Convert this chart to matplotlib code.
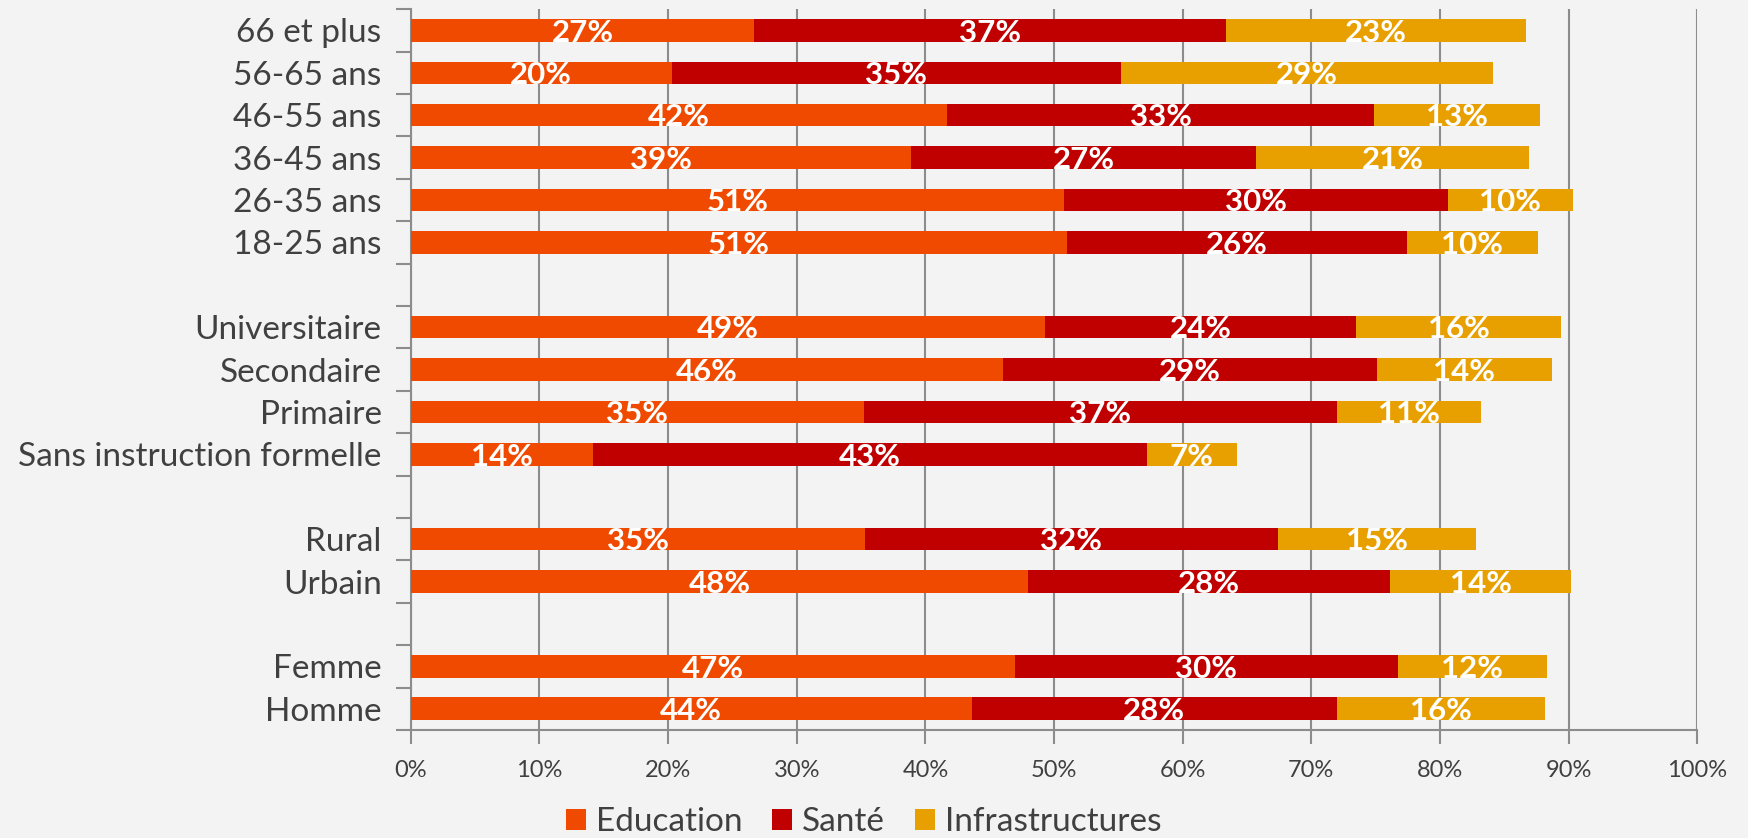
import numpy as np
import matplotlib.pyplot as plt

# categories top to bottom, blank rows separate the groups (as in the source sheet)
categories = ['66 et plus', '56-65 ans', '46-55 ans', '36-45 ans', '26-35 ans', '18-25 ans', '',
              'Universitaire', 'Secondaire', 'Primaire', 'Sans instruction formelle', '',
              'Rural', 'Urbain', '',
              'Femme', 'Homme']
education = [26.7, 20.3, 41.7, 38.9, 50.8, 51.0, np.nan,
             49.3, 46.0, 35.2, 14.2, np.nan,
             35.3, 48.0, np.nan,
             47.0, 43.6]
sante = [36.7, 34.9, 33.2, 26.8, 29.8, 26.4, np.nan,
         24.2, 29.1, 36.8, 43.0, np.nan,
         32.1, 28.1, np.nan,
         29.7, 28.4]
infra = [23.3, 28.9, 12.9, 21.2, 9.7, 10.2, np.nan,
         15.9, 13.6, 11.2, 7.0, np.nan,
         15.4, 14.1, np.nan,
         11.6, 16.2]
series = ['Education', 'Santé', 'Infrastructures']
colors = ['#EF4A00', '#C00000', '#E8A000']

plt.rcParams['font.family'] = ['Lato', 'DejaVu Sans']

fig = plt.figure(figsize=(17.48, 8.38), dpi=100)
fig.patch.set_facecolor('#f3f3f3')
ax = fig.add_axes([0.235, 0.129, 0.736, 0.860])
ax.set_facecolor('#f3f3f3')

y = np.arange(len(categories))
h = 0.53
left = np.zeros(len(categories))
for name, vals, col in zip(series, [education, sante, infra], colors):
    vals = np.array(vals, dtype=float)
    ax.barh(y, np.nan_to_num(vals), left=left, height=h, color=col, label=name, zorder=3)
    for yi, l, v in zip(y, left, vals):
        if np.isnan(v):
            continue
        ax.text(l + v / 2, yi + h / 2, f'{v:.0f}%', ha='center', va='baseline',
                color='white', fontsize=22.5, fontweight='bold', zorder=4)
    left = left + np.nan_to_num(vals)

ax.set_xlim(0, 100)
ax.set_ylim(len(categories) - 0.5, -0.5)
ax.set_xticks(np.arange(0, 101, 10))
ax.set_xticklabels([f'{v}%' for v in range(0, 101, 10)], fontsize=17, color='#404040')
ax.xaxis.grid(True, color='#8c8c8c', linewidth=1.5, zorder=0)

# ticks at category boundaries, labels in the middle
ax.set_yticks(np.arange(-0.5, len(categories), 1))
ax.set_yticklabels([])
ax.set_yticks(y, minor=True)
ax.set_yticklabels(categories, minor=True, fontsize=24, color='#404040')
ax.tick_params(axis='y', which='minor', length=0, pad=21)
ax.tick_params(axis='y', which='major', length=11, width=1.5, color='#8c8c8c')
ax.tick_params(axis='x', length=10, width=1.5, color='#8c8c8c', pad=12)

for s in ['top', 'right']:
    ax.spines[s].set_visible(False)
for s in ['left', 'bottom']:
    ax.spines[s].set_color('#8c8c8c')
    ax.spines[s].set_linewidth(1.5)

ax.legend(loc='center', bbox_to_anchor=(0.352, -0.128), ncol=3, frameon=False,
          fontsize=24, handlelength=0.6, handleheight=0.6, handletextpad=0.3,
          columnspacing=0.9, labelcolor='#404040')

fig.savefig('out.png', dpi=100, facecolor=fig.get_facecolor())
